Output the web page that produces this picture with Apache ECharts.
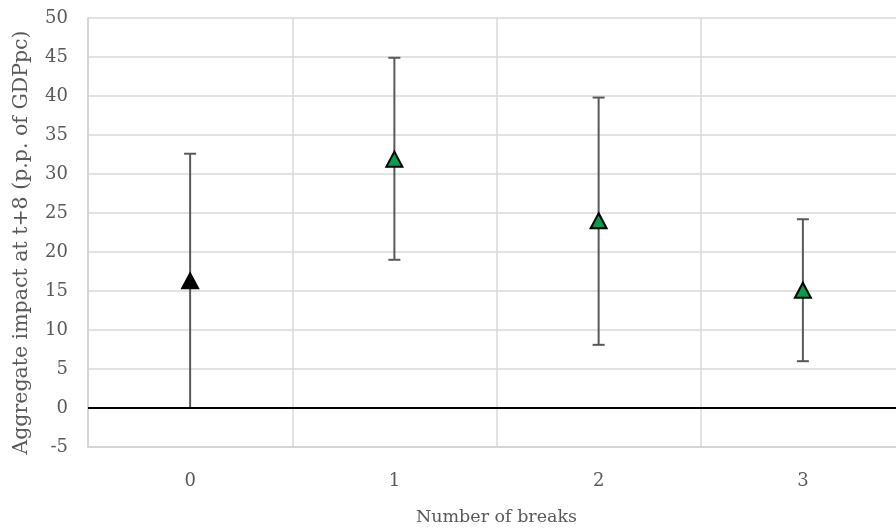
<!DOCTYPE html>
<html>
<head>
<meta charset="utf-8">
<script src="https://cdn.jsdelivr.net/npm/echarts@6/dist/echarts.min.js"></script>
<style>
  html, body { margin: 0; padding: 0; background: #fff; overflow: hidden; }
  #chart { width: 905px; height: 531px; }
</style>
</head>
<body>
<div id="chart"></div>
<script>
// Number of breaks vs. aggregate impact, with confidence bands
const categories = ['0', '1', '2', '3'];
const pointValues = [16.3, 31.9, 24.0, 15.1];
const lowerBounds = [0.0, 19.0, 8.1, 6.0];
const upperBounds = [32.6, 44.9, 39.8, 24.2];
const markerFills = ['#000000', '#00A04A', '#00A04A', '#00A04A'];

const serif = '"DejaVu Serif", "Liberation Serif", serif';
const textGray = '#595959';

const chart = echarts.init(document.getElementById('chart'));

const barData = categories.map((c, i) => [i, lowerBounds[i], upperBounds[i]]);
const pointData = categories.map((c, i) => ({
  value: [i, pointValues[i]],
  itemStyle: { color: markerFills[i] }
}));

chart.setOption({
  animation: false,
  grid: { left: 88, right: 0, top: 18, bottom: 83, containLabel: false },
  xAxis: {
    type: 'category',
    data: categories,
    boundaryGap: true,
    name: 'Number of breaks',
    nameLocation: 'middle',
    nameGap: 61,
    nameTextStyle: { fontFamily: serif, fontSize: 17.5, color: textGray },
    axisLine: { show: true, onZero: false, lineStyle: { color: '#d0d0d0', width: 1.5 } },
    axisTick: { show: false },
    axisLabel: { fontFamily: serif, fontSize: 18, color: textGray, margin: 25 },
    splitLine: { show: true, interval: 0, lineStyle: { color: '#d9d9d9', width: 1.5 } }
  },
  yAxis: {
    type: 'value',
    min: -5,
    max: 50,
    interval: 5,
    name: 'Aggregate impact at t+8 (p.p. of GDPpc)',
    nameLocation: 'middle',
    nameGap: 56,
    nameTextStyle: { fontFamily: serif, fontSize: 20.5, color: textGray, padding: [0, 20, 0, 0] },
    axisLine: { show: true, lineStyle: { color: '#d0d0d0', width: 1.5 } },
    axisTick: { show: false },
    axisLabel: { fontFamily: serif, fontSize: 18, color: textGray, margin: 20 },
    splitLine: { show: true, lineStyle: { color: '#d9d9d9', width: 1.5 } }
  },
  series: [
    {
      type: 'custom',
      z: 3,
      data: barData,
      renderItem: function (params, api) {
        const x = api.value(0);
        const lo = api.coord([x, api.value(1)]);
        const hi = api.coord([x, api.value(2)]);
        const cap = 6;
        const style = { stroke: '#595959', lineWidth: 2, fill: null };
        return {
          type: 'group',
          children: [
            { type: 'line', shape: { x1: lo[0], y1: lo[1], x2: hi[0], y2: hi[1] }, style: style },
            { type: 'line', shape: { x1: lo[0] - cap, y1: lo[1], x2: lo[0] + cap, y2: lo[1] }, style: style },
            { type: 'line', shape: { x1: hi[0] - cap, y1: hi[1], x2: hi[0] + cap, y2: hi[1] }, style: style }
          ]
        };
      }
    },
    {
      type: 'scatter',
      z: 5,
      symbol: 'triangle',
      symbolSize: [16, 15],
      data: pointData,
      itemStyle: { borderColor: '#000000', borderWidth: 2, opacity: 1 },
      markLine: {
        silent: true,
        symbol: 'none',
        label: { show: false },
        lineStyle: { color: '#000000', width: 2, type: 'solid' },
        data: [{ yAxis: 0 }]
      }
    }
  ]
});
</script>
</body>
</html>
